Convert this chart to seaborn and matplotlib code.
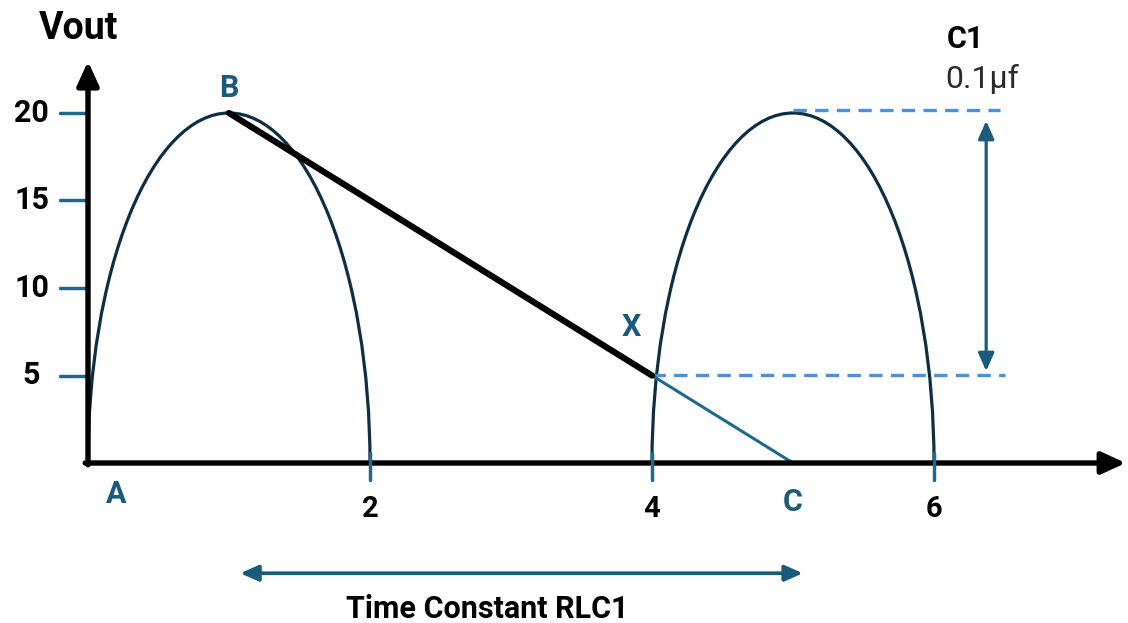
import matplotlib
matplotlib.use("Agg")
import matplotlib.pyplot as plt
from matplotlib.patches import Arc
import seaborn as sns

# ---- data ----
arch_start = [0, 4]
arch_end = [2, 6]
arch_peak = [20, 20]
discharge_t = [1, 4]          # B -> X
discharge_v = [20, 5]
tail_t = [4, 5]               # X -> C
tail_v = [5, 0]
y_ticks = [20, 15, 10, 5]
x_ticks = [2, 4, 6]
point_labels = ["A", "B", "X", "C"]
point_t = [0.2, 1.0, 3.85, 5.0]
point_v = [-1.75, 21.45, 7.75, -2.25]
ripple_top = 20.15
ripple_bottom = 5.05
tc_start, tc_end = 1.08, 5.07

sns.set_theme(style="white")
plt.rcParams["font.family"] = ["Roboto", "DejaVu Sans"]

TEAL = "#1b5b7a"
ARCH = "#0e2e44"
DASH = "#4a90dc"

fig = plt.figure(figsize=(11.28, 6.23), dpi=100)
ax = fig.add_axes([0, 0, 1, 1])
ax.set_xlim(-88 / 141, (1128 - 88) / 141)
ax.set_ylim(-160 / 17.5, 463 / 17.5)
ax.axis("off")

# arches (half ellipses)
for s, e, p in zip(arch_start, arch_end, arch_peak):
    ax.add_patch(Arc(((s + e) / 2, 0), e - s, 2 * p, theta1=0, theta2=180,
                     color=ARCH, lw=2.3, zorder=3))

# discharge lines
sns.lineplot(x=discharge_t, y=discharge_v, sort=False, ax=ax, color="black",
             lw=4.5, zorder=5, solid_capstyle="round")
sns.lineplot(x=tail_t, y=tail_v, sort=False, ax=ax, color="#1f6a8c",
             lw=2.2, zorder=4)

# dashed ripple lines
ax.plot([5, 6.47], [ripple_top, ripple_top], color=DASH, lw=2.4,
        dashes=(4, 2.5), zorder=3)
ax.plot([4, 6.5], [ripple_bottom, ripple_bottom], color=DASH, lw=2.4,
        dashes=(4, 2.5), zorder=3)

# axes arrows
ax.annotate("", xy=(0, 22.95), xytext=(0, -0.1),
            arrowprops=dict(arrowstyle="-|>,head_length=1.2,head_width=0.55",
                            color="black", lw=3.9, shrinkA=0, shrinkB=0), zorder=6)
ax.annotate("", xy=(7.36, 0), xytext=(-0.02, 0),
            arrowprops=dict(arrowstyle="-|>,head_length=1.2,head_width=0.55",
                            color="black", lw=3.9, shrinkA=0, shrinkB=0), zorder=6)

# ticks
for v in y_ticks:
    ax.plot([-0.2, 0], [v, v], color="#1f6a8c", lw=2.5, zorder=2)
    ax.text(-0.4, v, str(v), ha="center", va="center", fontsize=22,
            fontweight="bold", color="black")
for t in x_ticks:
    ax.plot([t, t], [0.55, -0.95], color="#1f6a8c", lw=2.5, zorder=7)
    ax.text(t, -2.65, str(t), ha="center", va="center", fontsize=21,
            fontweight="bold", color="black")

# point labels
for lab, t, v in zip(point_labels, point_t, point_v):
    ax.text(t, v, lab, ha="center", va="center", fontsize=22,
            fontweight="bold", color=TEAL)

# ripple double arrow
ax.annotate("", xy=(6.37, 19.55), xytext=(6.37, 5.25),
            arrowprops=dict(arrowstyle="<|-|>,head_length=0.9,head_width=0.4",
                            color=TEAL, lw=2.3, shrinkA=0, shrinkB=0))

# time constant arrow
ax.annotate("", xy=(tc_end, -6.3), xytext=(tc_start, -6.3),
            arrowprops=dict(arrowstyle="<|-|>,head_length=0.9,head_width=0.4",
                            color=TEAL, lw=2.7, shrinkA=0, shrinkB=0))
ax.text((tc_start + tc_end) / 2 - 0.24, -8.35, "Time Constant RLC1", ha="center",
        va="center", fontsize=22, fontweight="bold", color="black")

# titles
ax.text(-0.07, 24.85, "Vout", ha="center", va="center", fontsize=27,
        fontweight="bold", color="black")
ax.text(6.22, 24.25, "C1", ha="center", va="center", fontsize=22,
        fontweight="bold", color="black")
ax.text(6.34, 21.95, "0.1\u03bcf", ha="center", va="center", fontsize=23,
        color="#2a2a2a")

fig.savefig("out.png", dpi=100)
